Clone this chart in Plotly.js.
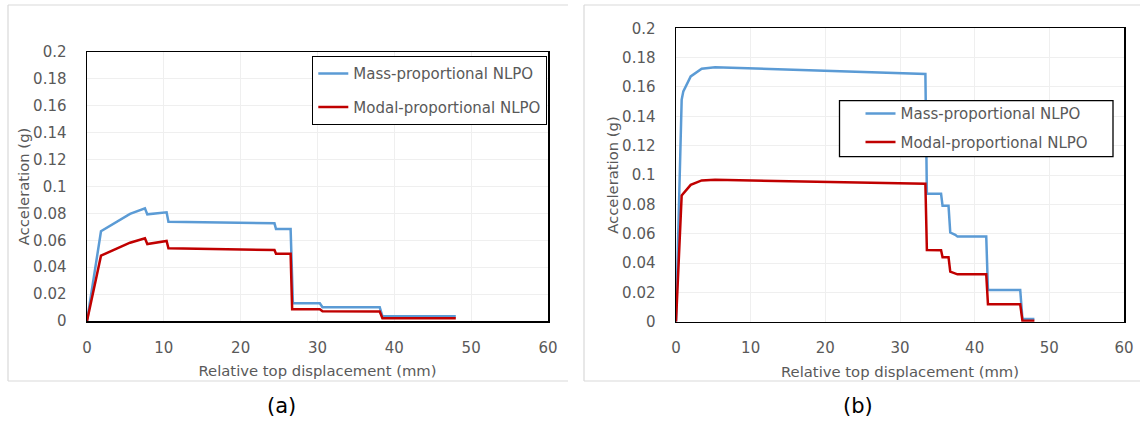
<!DOCTYPE html>
<html>
<head>
<meta charset="utf-8">
<script src="https://cdn.plot.ly/plotly-3.0.1.min.js"></script>
<style>html,body{margin:0;padding:0;background:#fff;}#chart{width:1140px;height:421px;}</style>
</head>
<body>
<div id="chart"></div>
<script>
// Panel (a)
const aMassDisp  = [0, 1.82, 5.6, 7.54, 7.85, 10.36, 10.6, 24.4, 24.6, 26.5, 26.8, 30.3, 30.65, 38.1, 38.45, 48.0];
const aMassAcc   = [0, 0.0667, 0.0796, 0.0838, 0.0793, 0.0808, 0.0738, 0.0726, 0.0684, 0.0684, 0.0132, 0.0132, 0.0102, 0.0102, 0.0035, 0.0035];
const aModalDisp = [0, 1.82, 5.6, 7.54, 7.85, 10.36, 10.6, 24.4, 24.6, 26.5, 26.7, 30.3, 30.65, 38.1, 38.45, 48.0];
const aModalAcc  = [0, 0.0486, 0.0582, 0.0615, 0.0572, 0.0595, 0.054, 0.0528, 0.050, 0.050, 0.0087, 0.0087, 0.0072, 0.0070, 0.002, 0.002];
// Panel (b)
const bMassDisp  = [0, 0.76, 0.98, 1.97, 3.44, 5.23, 33.4, 33.6, 35.5, 35.7, 36.5, 36.73, 37.4, 37.7, 41.55, 41.78, 46.1, 46.4, 48.0];
const bMassAcc   = [0, 0.1513, 0.157, 0.1672, 0.1725, 0.1734, 0.1689, 0.0872, 0.0872, 0.079, 0.079, 0.0608, 0.0592, 0.058, 0.058, 0.0216, 0.0216, 0.0018, 0.0018];
const bModalDisp = [0, 0.76, 1.97, 3.44, 5.23, 33.4, 33.6, 35.5, 35.7, 36.5, 36.73, 37.4, 37.7, 41.55, 41.78, 46.1, 46.4, 48.0];
const bModalAcc  = [0, 0.086, 0.0933, 0.0963, 0.0967, 0.094, 0.0489, 0.0487, 0.044, 0.044, 0.0341, 0.033, 0.0323, 0.0323, 0.0119, 0.0119, 0.0007, 0.0007];

const seriesNames = ['Mass-proportional NLPO', 'Modal-proportional NLPO'];
const xTitle = 'Relative top displacement (mm)';
const yTitle = 'Acceleration (g)';
const captions = ['(a)', '(b)'];

const BLUE = '#5B9BD5', RED = '#C00000';
const FONT = 'DejaVu Sans, Verdana, sans-serif';
const W = 1140, H = 421;

const traces = [
  {x: aMassDisp, y: aMassAcc, name: seriesNames[0], type: 'scatter', mode: 'lines', line: {color: BLUE, width: 2.5}, xaxis: 'x', yaxis: 'y', legend: 'legend', legendgroup: 'a1'},
  {x: aModalDisp, y: aModalAcc, name: seriesNames[1], type: 'scatter', mode: 'lines', line: {color: RED, width: 2.5}, xaxis: 'x', yaxis: 'y', legend: 'legend', legendgroup: 'a2'},
  {x: bMassDisp, y: bMassAcc, name: seriesNames[0], type: 'scatter', mode: 'lines', line: {color: BLUE, width: 2.5}, xaxis: 'x2', yaxis: 'y2', legend: 'legend2', legendgroup: 'b1'},
  {x: bModalDisp, y: bModalAcc, name: seriesNames[1], type: 'scatter', mode: 'lines', line: {color: RED, width: 2.5}, xaxis: 'x2', yaxis: 'y2', legend: 'legend2', legendgroup: 'b2'}
];

function xax(domain, anchor) {
  return {
    domain: domain, anchor: anchor, range: [0, 60], dtick: 10, tick0: 0,
    showgrid: true, gridcolor: '#efefef', gridwidth: 1,
    showline: true, linecolor: '#000', linewidth: 1.5, mirror: true,
    ticks: '', zeroline: false, ticklabelstandoff: 12,
    tickfont: {family: FONT, size: 15, color: '#595959'},
    title: {text: xTitle, font: {family: FONT, size: 14.8, color: '#595959'}, standoff: 10},
    automargin: false, fixedrange: true
  };
}
function yax(domain, anchor) {
  return {
    domain: domain, anchor: anchor, range: [0, 0.2], dtick: 0.02, tick0: 0,
    showgrid: true, gridcolor: '#efefef', gridwidth: 1,
    showline: true, linecolor: '#000', linewidth: 1.5, mirror: true,
    ticks: '', zeroline: false, ticklabelstandoff: 16,
    tickfont: {family: FONT, size: 15, color: '#595959'},
    title: {text: yTitle, font: {family: FONT, size: 14.8, color: '#595959'}, standoff: 0},
    automargin: false, fixedrange: true
  };
}

const layout = {
  width: W, height: H,
  margin: {l: 0, r: 0, t: 0, b: 0, pad: 0},
  paper_bgcolor: '#fff', plot_bgcolor: '#fff',
  font: {family: FONT, color: '#595959'},
  showlegend: true,
  xaxis: xax([87 / W, 548 / W], 'y'),
  yaxis: yax([1 - 321 / H, 1 - 52 / H], 'x'),
  xaxis2: xax([676 / W, 1124 / W], 'y2'),
  yaxis2: yax([1 - 321.7 / H, 1 - 28.3 / H], 'x2'),
  legend: {
    x: 312 / W, y: 1 - 56 / H, xanchor: 'left', yanchor: 'top', xref: 'paper', yref: 'paper',
    bgcolor: '#fff', bordercolor: '#000', borderwidth: 1.3,
    font: {family: FONT, size: 15, color: '#595959'},
    traceorder: 'grouped', tracegroupgap: 11, itemwidth: 30
  },
  legend2: {
    x: 860.5 / W, y: 1 - 97.2 / H, xanchor: 'left', yanchor: 'top', xref: 'paper', yref: 'paper',
    bgcolor: 'rgba(0,0,0,0)', borderwidth: 0,
    font: {family: FONT, size: 15, color: '#595959'},
    traceorder: 'grouped', tracegroupgap: 6, itemwidth: 30
  },
  shapes: [
    // panel (a) frame (open on the right)
    {type: 'line', xref: 'paper', yref: 'paper', x0: 8 / W, x1: 568 / W, y0: 1 - 5 / H, y1: 1 - 5 / H, line: {color: '#d9d9d9', width: 1.2}},
    {type: 'line', xref: 'paper', yref: 'paper', x0: 8 / W, x1: 8 / W, y0: 1 - 5 / H, y1: 1 - 381 / H, line: {color: '#d9d9d9', width: 1.2}},
    {type: 'line', xref: 'paper', yref: 'paper', x0: 8 / W, x1: 568 / W, y0: 1 - 381 / H, y1: 1 - 381 / H, line: {color: '#d9d9d9', width: 1.2}},
    // panel (b) frame (open on the right)
    {type: 'line', xref: 'paper', yref: 'paper', x0: 584 / W, x1: 1140 / W, y0: 1 - 5 / H, y1: 1 - 5 / H, line: {color: '#d9d9d9', width: 1.2}},
    {type: 'line', xref: 'paper', yref: 'paper', x0: 584 / W, x1: 584 / W, y0: 1 - 5 / H, y1: 1 - 381 / H, line: {color: '#d9d9d9', width: 1.2}},
    {type: 'line', xref: 'paper', yref: 'paper', x0: 584 / W, x1: 1140 / W, y0: 1 - 381 / H, y1: 1 - 381 / H, line: {color: '#d9d9d9', width: 1.2}},
    // legend box of panel (b)
    {type: 'rect', layer: 'above', xref: 'paper', yref: 'paper', x0: 839.5 / W, x1: 1113 / W, y0: 1 - 100.7 / H, y1: 1 - 156.7 / H, fillcolor: '#fff', line: {color: '#000', width: 1.3}}
  ],
  annotations: [
    {text: captions[0], xref: 'paper', yref: 'paper', x: 281 / W, y: 1 - 406 / H, xanchor: 'center', yanchor: 'middle', showarrow: false, font: {family: FONT, size: 21, color: '#000'}},
    {text: captions[1], xref: 'paper', yref: 'paper', x: 858 / W, y: 1 - 406 / H, xanchor: 'center', yanchor: 'middle', showarrow: false, font: {family: FONT, size: 21, color: '#000'}}
  ]
};

Plotly.newPlot('chart', traces, layout, {staticPlot: true, displayModeBar: false});
</script>
</body>
</html>
